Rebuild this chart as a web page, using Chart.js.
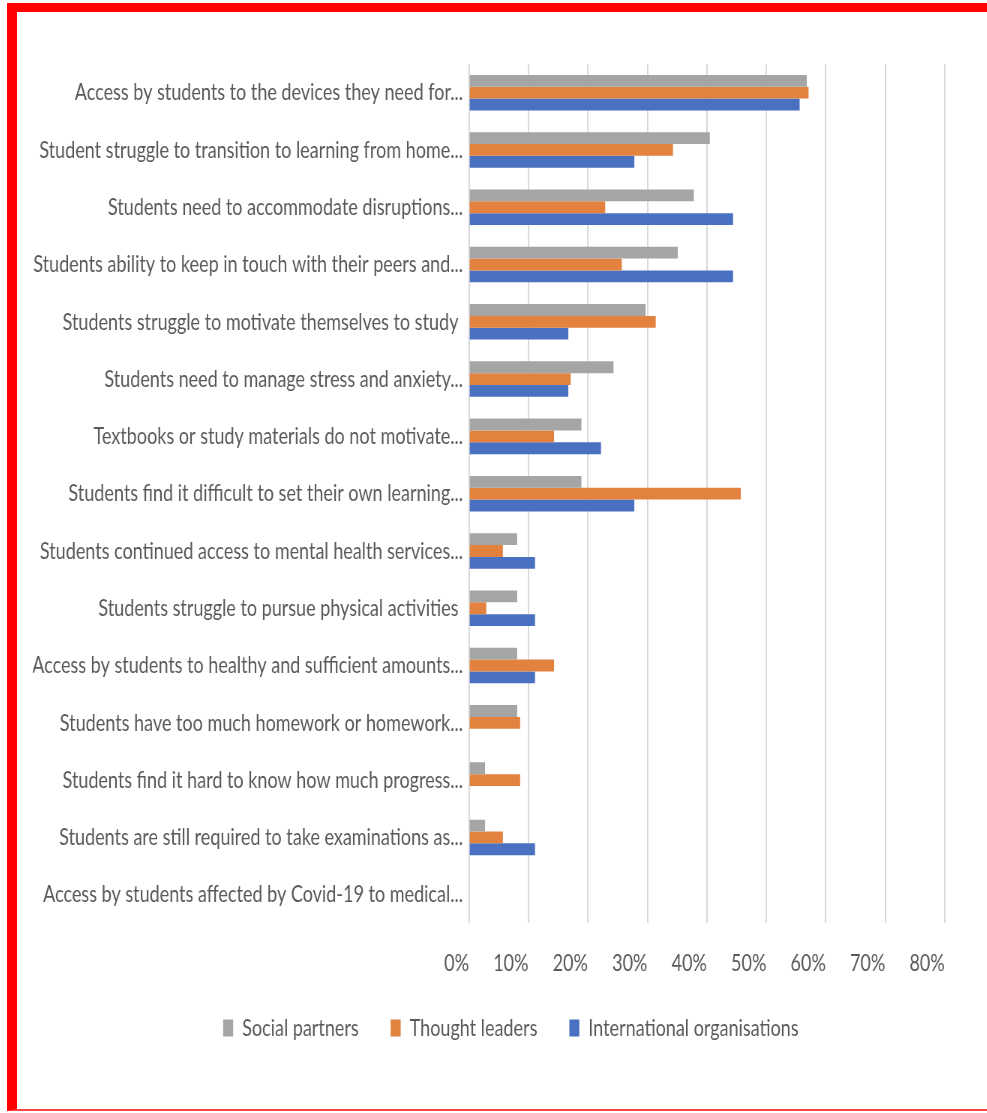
<!DOCTYPE html>
<html>
<head>
<meta charset="utf-8">
<script src="https://cdn.jsdelivr.net/npm/chart.js@4.4.1/dist/chart.umd.min.js"></script>
<style>
  html, body { margin: 0; padding: 0; background: #fff; overflow: hidden; }
  body { width: 987px; height: 1113px; position: relative; }
  .frame {
    position: absolute; left: 7px; top: 3px; width: 1000px; height: 1097px;
    border-top: 9px solid #ff0000; border-left: 10px solid #ff0000; border-bottom: 2px solid #f44;
  }
  #wrap { position: absolute; left: 20px; top: 20px; transform-origin: 0 0; }
</style>
</head>
<body>
<div class="frame"></div>
<div id="wrap"><canvas id="challengesChart"></canvas></div>
<script>
const categories = [
  'Access by students to the devices they need for...',
  'Student struggle to transition to learning from home...',
  'Students need to accommodate disruptions...',
  'Students ability to keep in touch with their peers and...',
  'Students struggle to motivate themselves to study ',
  'Students need to manage stress and anxiety...',
  'Textbooks or study materials do not motivate...',
  'Students find it difficult to set their own learning...',
  'Students continued access to mental health services...',
  'Students struggle to pursue physical activities ',
  'Access by students to healthy and sufficient amounts...',
  'Students have too much homework or homework...',
  'Students find it hard to know how much progress...',
  'Students are still required to take examinations as...',
  'Access by students affected by Covid-19 to medical...'
];

// share of respondents, %
const socialPartners    = [56.8, 40.5, 37.8, 35.1, 29.7, 24.3, 18.9, 18.9, 8.1, 8.1, 8.1, 8.1, 2.7, 2.7, 0];
const thoughtLeaders    = [57.1, 34.3, 22.9, 25.7, 31.4, 17.1, 14.3, 45.7, 5.7, 2.9, 14.3, 8.6, 8.6, 5.7, 0];
const internationalOrgs = [55.6, 27.8, 44.4, 44.4, 16.7, 16.7, 22.2, 27.8, 11.1, 11.1, 11.1, 0, 0, 11.1, 0];

const axisMax = 80;
const axisStep = 10;

// the chart is drawn wide and squeezed horizontally to get the condensed text look
const SQUEEZE = 0.75;
const sx = v => v / SQUEEZE;

const FONT = "Lato, 'Open Sans', sans-serif";
const FONT_SIZE = 24;
const TEXT = '#595959';

const canvasW = Math.round(sx(982));
const canvasH = 1030;
const plotTop = 44, plotBottom = 903;   // relative to the canvas
const tickPad = 26;
const legendPad = sx(32);
const legendTop = 953;                  // relative to the canvas

const wrap = document.getElementById('wrap');
wrap.style.transform = 'scaleX(' + SQUEEZE + ')';
const canvas = document.getElementById('challengesChart');
canvas.width = canvasW;
canvas.height = canvasH;

// centre the legend under the plot rather than under the whole label column
const legendOffset = {
  id: 'legendOffset',
  afterLayout(chart) {
    const d = sx(22);
    chart.legend.left += d;
    chart.legend.right += d;
  }
};

new Chart(canvas, {
  type: 'bar',
  data: {
    labels: categories,
    datasets: [
      { label: 'Social partners', data: socialPartners, backgroundColor: '#a5a5a5' },
      { label: 'Thought leaders', data: thoughtLeaders, backgroundColor: '#e2823e' },
      { label: 'International organisations', data: internationalOrgs, backgroundColor: '#4a70c2' }
    ]
  },
  options: {
    indexAxis: 'y',
    responsive: false,
    animation: false,
    devicePixelRatio: 1,
    categoryPercentage: 0.62,
    barPercentage: 1.0,
    layout: { padding: { top: plotTop, right: sx(57), bottom: 0, left: sx(13) } },
    scales: {
      x: {
        min: 0,
        max: axisMax,
        ticks: {
          stepSize: axisStep,
          align: 'end',
          padding: tickPad,
          color: TEXT,
          font: { family: FONT, size: FONT_SIZE },
          callback: v => v + '%'
        },
        grid: { color: '#d9d9d9', lineWidth: sx(1.5), drawTicks: false },
        border: { display: false },
        afterFit: scale => { scale.height = legendTop - plotBottom; }
      },
      y: {
        ticks: {
          autoSkip: false,
          padding: sx(6),
          color: TEXT,
          font: { family: FONT, size: FONT_SIZE }
        },
        grid: { display: false, drawTicks: false },
        border: { display: false },
        afterFit: scale => { scale.width = sx(436); }
      }
    },
    plugins: {
      legend: {
        position: 'bottom',
        labels: {
          boxWidth: sx(10),
          boxHeight: 17,
          padding: legendPad,
          color: TEXT,
          font: { family: FONT, size: FONT_SIZE }
        }
      },
      tooltip: { enabled: false }
    }
  },
  plugins: [legendOffset]
});
</script>
</body>
</html>
